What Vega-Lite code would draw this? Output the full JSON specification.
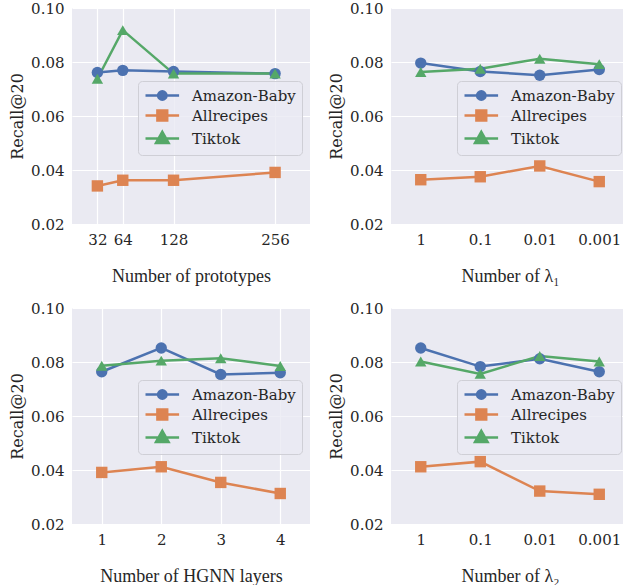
{
  "$schema": "https://vega.github.io/schema/vega-lite/v6.json",
  "padding": {"left": 9, "top": 1, "right": 0, "bottom": 0},
  "datasets": {
    "p1": [
      {"param": 32, "dataset": "Amazon-Baby", "recall": 0.0761},
      {"param": 64, "dataset": "Amazon-Baby", "recall": 0.0769},
      {"param": 128, "dataset": "Amazon-Baby", "recall": 0.0765},
      {"param": 256, "dataset": "Amazon-Baby", "recall": 0.0757},
      {"param": 32, "dataset": "Allrecipes", "recall": 0.0341},
      {"param": 64, "dataset": "Allrecipes", "recall": 0.0362},
      {"param": 128, "dataset": "Allrecipes", "recall": 0.0362},
      {"param": 256, "dataset": "Allrecipes", "recall": 0.0391},
      {"param": 32, "dataset": "Tiktok", "recall": 0.0738},
      {"param": 64, "dataset": "Tiktok", "recall": 0.0918},
      {"param": 128, "dataset": "Tiktok", "recall": 0.0757},
      {"param": 256, "dataset": "Tiktok", "recall": 0.0757}
    ],
    "p2": [
      {"param": "1", "dataset": "Amazon-Baby", "recall": 0.0796},
      {"param": "0.1", "dataset": "Amazon-Baby", "recall": 0.0765},
      {"param": "0.01", "dataset": "Amazon-Baby", "recall": 0.0751},
      {"param": "0.001", "dataset": "Amazon-Baby", "recall": 0.0772},
      {"param": "1", "dataset": "Allrecipes", "recall": 0.0364},
      {"param": "0.1", "dataset": "Allrecipes", "recall": 0.0375},
      {"param": "0.01", "dataset": "Allrecipes", "recall": 0.0415},
      {"param": "0.001", "dataset": "Allrecipes", "recall": 0.0357},
      {"param": "1", "dataset": "Tiktok", "recall": 0.0763},
      {"param": "0.1", "dataset": "Tiktok", "recall": 0.0775},
      {"param": "0.01", "dataset": "Tiktok", "recall": 0.0812},
      {"param": "0.001", "dataset": "Tiktok", "recall": 0.0792}
    ],
    "p3": [
      {"param": 1, "dataset": "Amazon-Baby", "recall": 0.0764},
      {"param": 2, "dataset": "Amazon-Baby", "recall": 0.0852},
      {"param": 3, "dataset": "Amazon-Baby", "recall": 0.0754},
      {"param": 4, "dataset": "Amazon-Baby", "recall": 0.0760},
      {"param": 1, "dataset": "Allrecipes", "recall": 0.0391},
      {"param": 2, "dataset": "Allrecipes", "recall": 0.0412},
      {"param": 3, "dataset": "Allrecipes", "recall": 0.0354},
      {"param": 4, "dataset": "Allrecipes", "recall": 0.0313},
      {"param": 1, "dataset": "Tiktok", "recall": 0.0786},
      {"param": 2, "dataset": "Tiktok", "recall": 0.0805},
      {"param": 3, "dataset": "Tiktok", "recall": 0.0814},
      {"param": 4, "dataset": "Tiktok", "recall": 0.0785}
    ],
    "p4": [
      {"param": "1", "dataset": "Amazon-Baby", "recall": 0.0852},
      {"param": "0.1", "dataset": "Amazon-Baby", "recall": 0.0783},
      {"param": "0.01", "dataset": "Amazon-Baby", "recall": 0.0812},
      {"param": "0.001", "dataset": "Amazon-Baby", "recall": 0.0764},
      {"param": "1", "dataset": "Allrecipes", "recall": 0.0412},
      {"param": "0.1", "dataset": "Allrecipes", "recall": 0.0431},
      {"param": "0.01", "dataset": "Allrecipes", "recall": 0.0322},
      {"param": "0.001", "dataset": "Allrecipes", "recall": 0.0310},
      {"param": "1", "dataset": "Tiktok", "recall": 0.0802},
      {"param": "0.1", "dataset": "Tiktok", "recall": 0.0756},
      {"param": "0.01", "dataset": "Tiktok", "recall": 0.0822},
      {"param": "0.001", "dataset": "Tiktok", "recall": 0.0802}
    ]
  },
  "vconcat": [
    {
      "hconcat": [
        {
          "width": 238, "height": 216,
          "data": {"name": "p1"},
          "encoding": {
            "x": {"field": "param", "type": "quantitative", "title": "Number of prototypes", "scale": {"domain": [0, 300], "nice": false, "zero": false}, "axis": {"values": [32, 64, 128, 256], "format": "d"}},
            "y": {"field": "recall", "type": "quantitative", "title": "Recall@20", "scale": {"domain": [0.02, 0.10], "nice": false, "zero": false}, "axis": {"values": [0.02, 0.04, 0.06, 0.08, 0.10], "format": ".2f"}},
            "color": {"field": "dataset", "type": "nominal", "sort": ["Amazon-Baby", "Allrecipes", "Tiktok"], "scale": {"domain": ["Amazon-Baby", "Allrecipes", "Tiktok"], "range": ["#4C72B0", "#DD8452", "#55A868"]},
              "legend": {"orient": "none", "legendX": 66, "legendY": 73, "title": null,
                "encode": {"symbols": {"update": {
                  "shape": {"signal": "datum.value === 'Amazon-Baby' ? 'M-1,0H3.8M0.8,0A0.6,0.6 0 1,1 2,0A0.6,0.6 0 1,1 0.8,0Z' : datum.value === 'Allrecipes' ? 'M-1,0H3.8M0.7,-0.7H2.1V0.7H0.7Z' : 'M-1,0H3.8M1.4,-0.95L2.3,0.65L0.5,0.65Z'"},
                  "fill": {"signal": "datum.value === 'Amazon-Baby' ? '#4C72B0' : datum.value === 'Allrecipes' ? '#DD8452' : '#55A868'"},
                  "stroke": {"signal": "datum.value === 'Amazon-Baby' ? '#4C72B0' : datum.value === 'Allrecipes' ? '#DD8452' : '#55A868'"},
                  "strokeWidth": {"value": 2.5},
                  "opacity": {"value": 1}}}}}}
          },
          "layer": [
            {"mark": {"type": "line", "strokeWidth": 2.5}},
            {"transform": [{"filter": "datum.dataset === 'Amazon-Baby'"}], "mark": {"type": "point", "shape": "circle", "filled": true, "size": 130, "opacity": 1}},
            {"transform": [{"filter": "datum.dataset === 'Allrecipes'"}], "mark": {"type": "point", "shape": "square", "filled": true, "size": 130, "opacity": 1}},
            {"transform": [{"filter": "datum.dataset === 'Tiktok'"}], "mark": {"type": "point", "shape": "triangle-up", "filled": true, "size": 130, "opacity": 1}}
          ]
        },
        {
          "width": 238, "height": 216,
          "data": {"name": "p2"},
          "encoding": {
            "x": {"field": "param", "type": "ordinal", "title": "Number of λ₁", "sort": ["1", "0.1", "0.01", "0.001"], "scale": {"type": "point", "padding": 0.5}, "axis": {"labelAngle": 0}},
            "y": {"field": "recall", "type": "quantitative", "title": "Recall@20", "scale": {"domain": [0.02, 0.10], "nice": false, "zero": false}, "axis": {"values": [0.02, 0.04, 0.06, 0.08, 0.10], "format": ".2f"}},
            "color": {"field": "dataset", "type": "nominal", "sort": ["Amazon-Baby", "Allrecipes", "Tiktok"], "scale": {"domain": ["Amazon-Baby", "Allrecipes", "Tiktok"], "range": ["#4C72B0", "#DD8452", "#55A868"]},
              "legend": {"orient": "none", "legendX": 66, "legendY": 73, "title": null,
                "encode": {"symbols": {"update": {
                  "shape": {"signal": "datum.value === 'Amazon-Baby' ? 'M-1,0H3.8M0.8,0A0.6,0.6 0 1,1 2,0A0.6,0.6 0 1,1 0.8,0Z' : datum.value === 'Allrecipes' ? 'M-1,0H3.8M0.7,-0.7H2.1V0.7H0.7Z' : 'M-1,0H3.8M1.4,-0.95L2.3,0.65L0.5,0.65Z'"},
                  "fill": {"signal": "datum.value === 'Amazon-Baby' ? '#4C72B0' : datum.value === 'Allrecipes' ? '#DD8452' : '#55A868'"},
                  "stroke": {"signal": "datum.value === 'Amazon-Baby' ? '#4C72B0' : datum.value === 'Allrecipes' ? '#DD8452' : '#55A868'"},
                  "strokeWidth": {"value": 2.5},
                  "opacity": {"value": 1}}}}}}
          },
          "layer": [
            {"mark": {"type": "line", "strokeWidth": 2.5}},
            {"transform": [{"filter": "datum.dataset === 'Amazon-Baby'"}], "mark": {"type": "point", "shape": "circle", "filled": true, "size": 130, "opacity": 1}},
            {"transform": [{"filter": "datum.dataset === 'Allrecipes'"}], "mark": {"type": "point", "shape": "square", "filled": true, "size": 130, "opacity": 1}},
            {"transform": [{"filter": "datum.dataset === 'Tiktok'"}], "mark": {"type": "point", "shape": "triangle-up", "filled": true, "size": 130, "opacity": 1}}
          ]
        }
      ],
      "spacing": 18,
      "resolve": {"scale": {"color": "independent", "x": "independent", "y": "independent"}, "legend": {"color": "independent"}}
    },
    {
      "hconcat": [
        {
          "width": 238, "height": 216,
          "data": {"name": "p3"},
          "encoding": {
            "x": {"field": "param", "type": "quantitative", "title": "Number of HGNN layers", "scale": {"domain": [0.5, 4.5], "nice": false, "zero": false}, "axis": {"values": [1, 2, 3, 4], "format": "d"}},
            "y": {"field": "recall", "type": "quantitative", "title": "Recall@20", "scale": {"domain": [0.02, 0.10], "nice": false, "zero": false}, "axis": {"values": [0.02, 0.04, 0.06, 0.08, 0.10], "format": ".2f"}},
            "color": {"field": "dataset", "type": "nominal", "sort": ["Amazon-Baby", "Allrecipes", "Tiktok"], "scale": {"domain": ["Amazon-Baby", "Allrecipes", "Tiktok"], "range": ["#4C72B0", "#DD8452", "#55A868"]},
              "legend": {"orient": "none", "legendX": 66, "legendY": 72, "title": null,
                "encode": {"symbols": {"update": {
                  "shape": {"signal": "datum.value === 'Amazon-Baby' ? 'M-1,0H3.8M0.8,0A0.6,0.6 0 1,1 2,0A0.6,0.6 0 1,1 0.8,0Z' : datum.value === 'Allrecipes' ? 'M-1,0H3.8M0.7,-0.7H2.1V0.7H0.7Z' : 'M-1,0H3.8M1.4,-0.95L2.3,0.65L0.5,0.65Z'"},
                  "fill": {"signal": "datum.value === 'Amazon-Baby' ? '#4C72B0' : datum.value === 'Allrecipes' ? '#DD8452' : '#55A868'"},
                  "stroke": {"signal": "datum.value === 'Amazon-Baby' ? '#4C72B0' : datum.value === 'Allrecipes' ? '#DD8452' : '#55A868'"},
                  "strokeWidth": {"value": 2.5},
                  "opacity": {"value": 1}}}}}}
          },
          "layer": [
            {"mark": {"type": "line", "strokeWidth": 2.5}},
            {"transform": [{"filter": "datum.dataset === 'Amazon-Baby'"}], "mark": {"type": "point", "shape": "circle", "filled": true, "size": 130, "opacity": 1}},
            {"transform": [{"filter": "datum.dataset === 'Allrecipes'"}], "mark": {"type": "point", "shape": "square", "filled": true, "size": 130, "opacity": 1}},
            {"transform": [{"filter": "datum.dataset === 'Tiktok'"}], "mark": {"type": "point", "shape": "triangle-up", "filled": true, "size": 130, "opacity": 1}}
          ]
        },
        {
          "width": 238, "height": 216,
          "data": {"name": "p4"},
          "encoding": {
            "x": {"field": "param", "type": "ordinal", "title": "Number of λ₂", "sort": ["1", "0.1", "0.01", "0.001"], "scale": {"type": "point", "padding": 0.5}, "axis": {"labelAngle": 0}},
            "y": {"field": "recall", "type": "quantitative", "title": "Recall@20", "scale": {"domain": [0.02, 0.10], "nice": false, "zero": false}, "axis": {"values": [0.02, 0.04, 0.06, 0.08, 0.10], "format": ".2f"}},
            "color": {"field": "dataset", "type": "nominal", "sort": ["Amazon-Baby", "Allrecipes", "Tiktok"], "scale": {"domain": ["Amazon-Baby", "Allrecipes", "Tiktok"], "range": ["#4C72B0", "#DD8452", "#55A868"]},
              "legend": {"orient": "none", "legendX": 66, "legendY": 72, "title": null,
                "encode": {"symbols": {"update": {
                  "shape": {"signal": "datum.value === 'Amazon-Baby' ? 'M-1,0H3.8M0.8,0A0.6,0.6 0 1,1 2,0A0.6,0.6 0 1,1 0.8,0Z' : datum.value === 'Allrecipes' ? 'M-1,0H3.8M0.7,-0.7H2.1V0.7H0.7Z' : 'M-1,0H3.8M1.4,-0.95L2.3,0.65L0.5,0.65Z'"},
                  "fill": {"signal": "datum.value === 'Amazon-Baby' ? '#4C72B0' : datum.value === 'Allrecipes' ? '#DD8452' : '#55A868'"},
                  "stroke": {"signal": "datum.value === 'Amazon-Baby' ? '#4C72B0' : datum.value === 'Allrecipes' ? '#DD8452' : '#55A868'"},
                  "strokeWidth": {"value": 2.5},
                  "opacity": {"value": 1}}}}}}
          },
          "layer": [
            {"mark": {"type": "line", "strokeWidth": 2.5}},
            {"transform": [{"filter": "datum.dataset === 'Amazon-Baby'"}], "mark": {"type": "point", "shape": "circle", "filled": true, "size": 130, "opacity": 1}},
            {"transform": [{"filter": "datum.dataset === 'Allrecipes'"}], "mark": {"type": "point", "shape": "square", "filled": true, "size": 130, "opacity": 1}},
            {"transform": [{"filter": "datum.dataset === 'Tiktok'"}], "mark": {"type": "point", "shape": "triangle-up", "filled": true, "size": 130, "opacity": 1}}
          ]
        }
      ],
      "spacing": 18,
      "resolve": {"scale": {"color": "independent", "x": "independent", "y": "independent"}, "legend": {"color": "independent"}}
    }
  ],
  "spacing": 16,
  "resolve": {"scale": {"color": "independent", "x": "independent", "y": "independent"}, "legend": {"color": "independent"}},
  "config": {
    "font": "DejaVu Serif",
    "view": {"fill": "#EAEAF2", "stroke": null},
    "axis": {"domain": false, "ticks": false, "gridColor": "white", "gridWidth": 1.2, "gridOpacity": 1, "labelFont": "DejaVu Serif", "labelFontSize": 15, "labelColor": "#262626", "labelPadding": 8, "titleFont": "DejaVu Serif", "titleFontSize": 15, "titleFontWeight": "normal", "titleColor": "#262626"},
    "axisX": {"titlePadding": 20, "titleFont": "Liberation Serif", "titleFontSize": 18},
    "axisY": {"titlePadding": 5, "titleFontSize": 16},
    "legend": {"symbolSize": 196, "symbolStrokeWidth": 2.5, "labelOffset": 31, "labelFont": "DejaVu Serif", "labelFontSize": 15, "labelColor": "#262626", "padding": 6, "rowPadding": 0, "fillColor": "rgba(234,234,242,0.8)", "strokeColor": "#cfcfd6", "cornerRadius": 4, "labelLimit": 300}
  }
}
